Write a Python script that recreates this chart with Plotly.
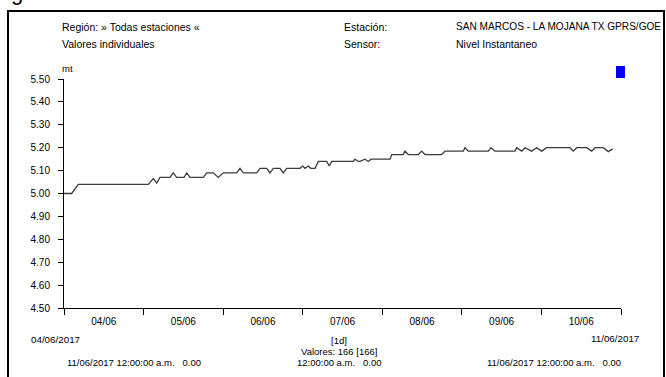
import plotly.graph_objects as go

# ---- data ----
times = [
    "2017-06-04 00:00", "2017-06-04 00:49", "2017-06-04 02:19", "2017-06-04 04:19", "2017-06-04 05:49",
    "2017-06-05 01:26", "2017-06-05 02:56", "2017-06-05 03:58", "2017-06-05 04:57", "2017-06-05 07:58",
    "2017-06-05 08:58", "2017-06-05 09:59", "2017-06-05 12:12", "2017-06-05 13:00", "2017-06-05 14:00",
    "2017-06-05 18:01", "2017-06-05 19:03", "2017-06-05 21:02", "2017-06-05 22:32", "2017-06-06 00:03",
    "2017-06-06 04:05", "2017-06-06 05:05", "2017-06-06 06:05", "2017-06-06 10:07", "2017-06-06 11:07",
    "2017-06-06 13:08", "2017-06-06 14:08", "2017-06-06 15:08", "2017-06-06 17:09", "2017-06-06 18:09",
    "2017-06-06 19:10", "2017-06-06 23:11", "2017-06-07 00:00", "2017-06-07 00:41", "2017-06-07 01:41",
    "2017-06-07 02:25", "2017-06-07 03:43", "2017-06-07 04:42", "2017-06-07 07:14", "2017-06-07 08:01",
    "2017-06-07 08:44", "2017-06-07 15:16", "2017-06-07 15:46", "2017-06-07 16:46", "2017-06-07 17:17",
    "2017-06-07 18:47", "2017-06-07 19:47", "2017-06-07 20:36", "2017-06-08 02:20", "2017-06-08 02:50",
    "2017-06-08 06:15", "2017-06-08 06:51", "2017-06-08 07:51", "2017-06-08 10:52", "2017-06-08 11:53",
    "2017-06-08 12:53", "2017-06-08 17:55", "2017-06-08 18:55", "2017-06-09 00:26", "2017-06-09 00:57",
    "2017-06-09 01:56", "2017-06-09 07:59", "2017-06-09 08:47", "2017-06-09 10:00", "2017-06-09 16:02",
    "2017-06-09 16:32", "2017-06-09 18:03", "2017-06-09 19:03", "2017-06-09 21:04", "2017-06-09 22:35",
    "2017-06-10 00:05", "2017-06-10 01:35", "2017-06-10 08:37", "2017-06-10 09:37", "2017-06-10 10:38",
    "2017-06-10 13:39", "2017-06-10 15:10", "2017-06-10 16:10", "2017-06-10 18:40", "2017-06-10 20:10",
    "2017-06-10 21:30",
]
levels = [
    5.000, 5.000, 5.000, 5.040, 5.040,
    5.040, 5.065, 5.045, 5.070, 5.070,
    5.090, 5.070, 5.070, 5.090, 5.070,
    5.070, 5.090, 5.090, 5.070, 5.090,
    5.090, 5.110, 5.090, 5.090, 5.110,
    5.110, 5.090, 5.110, 5.110, 5.090,
    5.110, 5.110, 5.120, 5.110, 5.120,
    5.110, 5.110, 5.140, 5.140, 5.120,
    5.140, 5.140, 5.150, 5.140, 5.140,
    5.150, 5.140, 5.150, 5.150, 5.170,
    5.170, 5.185, 5.170, 5.170, 5.185,
    5.170, 5.170, 5.185, 5.185, 5.200,
    5.185, 5.185, 5.200, 5.185, 5.185,
    5.200, 5.185, 5.200, 5.185, 5.200,
    5.185, 5.200, 5.200, 5.185, 5.200,
    5.200, 5.185, 5.200, 5.200, 5.183,
    5.195,
]
x_range = ["2017-06-04 00:00", "2017-06-11 00:00"]
y_range = [4.5, 5.5]

header_left = ["Región: » Todas estaciones «", "Valores individuales"]
header_mid = ["Estación:", "Sensor:"]
header_right = ["SAN MARCOS - LA MOJANA TX GPRS/GOE", "Nivel Instantaneo"]
unit_label = "mt"
start_label = "04/06/2017"
end_label = "11/06/2017"
interval_label = "[1d]"
count_label = "Valores: 166 [166]"
NB = "\u00a0"
left_stat = "11/06/2017 12:00:00 a.m." + NB * 3 + "0.00"
mid_stat = "12:00:00 a.m." + NB * 3 + "0.00"
right_stat = "11/06/2017 12:00:00 a.m." + NB * 3 + "0.00"

FONT = "Liberation Sans, Arial, sans-serif"

# ---- layout geometry (pixels) ----
W, H = 666, 377
L, R, T, B = 64, 621, 79, 308
PW, PH = R - L, B - T


def px(x):
    return (x - L) / PW


def py(y):
    return (B - y) / PH


fig = go.Figure()
fig.add_trace(go.Scatter(
    x=times, y=levels, mode="lines",
    line=dict(color="#3c3c3c", width=1.3),
    showlegend=False, hoverinfo="x+y",
))

ann = []


def text(t, x, y, xanchor="left", size=10.5):
    ann.append(dict(text=t, x=px(x), y=py(y), xref="paper", yref="paper",
                    xanchor=xanchor, yanchor="middle", showarrow=False, borderpad=0,
                    font=dict(family=FONT, size=size, color="black")))


text(header_left[0], 61, 27)
text(header_left[1], 61, 44)
text(unit_label, 61, 69, size=9.5)
text(header_mid[0], 343, 27)
text(header_mid[1], 343, 44)
text(header_right[0], 455, 27, size=10.1)
text(header_right[1], 455, 44)
text(start_label, 30, 339, size=9.8)
text(end_label, 640, 338, xanchor="right", size=9.8)
text(interval_label, 339, 340, xanchor="center", size=9.5)
text(count_label, 339, 351, xanchor="center", size=9.5)
text(mid_stat, 339, 362.5, xanchor="center", size=9.5)
text(left_stat, 66, 362.5, size=9.5)
text(right_stat, 622, 362.5, xanchor="right", size=9.5)

# cropped glyph at the very top-left of the image
ann.append(dict(text="g", x=px(17), y=py(7), xref="paper", yref="paper",
                xanchor="center", yanchor="bottom", showarrow=False,
                font=dict(family=FONT, size=22, color="black")))

shapes = [
    dict(type="rect", xref="paper", yref="paper",
         x0=px(8), x1=px(664), y0=py(400), y1=py(11),
         line=dict(color="black", width=2), fillcolor="rgba(0,0,0,0)", layer="above"),
    dict(type="rect", xref="paper", yref="paper",
         x0=px(616), x1=px(625), y0=py(78), y1=py(66),
         line=dict(color="#0000ff", width=0), fillcolor="#0000ff"),
]

fig.update_layout(
    width=W, height=H,
    margin=dict(l=L, r=W - R, t=T, b=H - B, pad=0),
    paper_bgcolor="white", plot_bgcolor="white",
    font=dict(family=FONT, size=10, color="black"),
    annotations=ann, shapes=shapes,
    xaxis=dict(
        type="date", range=x_range,
        tickmode="linear", tick0="2017-06-04 12:00", dtick=86400000,
        tickformat="%d/%m", ticks="", ticklen=0, ticklabelstandoff=4,
        showline=True, linecolor="black", linewidth=1,
        showgrid=False, zeroline=False,
        tickfont=dict(family=FONT, size=10, color="black"),
        minor=dict(ticks="outside", ticklen=6, tickcolor="black", tickwidth=1,
                   tickmode="linear", tick0="2017-06-04 00:00", dtick=86400000,
                   showgrid=False),
    ),
    yaxis=dict(
        range=y_range, tickmode="linear", tick0=4.5, dtick=0.1, tickformat=".2f",
        ticks="outside", ticklen=5, tickcolor="black", ticklabelstandoff=6,
        showline=True, linecolor="black", linewidth=1,
        showgrid=False, zeroline=False,
        tickfont=dict(family=FONT, size=10, color="black"),
    ),
)

fig.write_html("out.html", config={"displayModeBar": False},
               post_script="document.body.style.margin='0';document.body.style.overflow='hidden';")
